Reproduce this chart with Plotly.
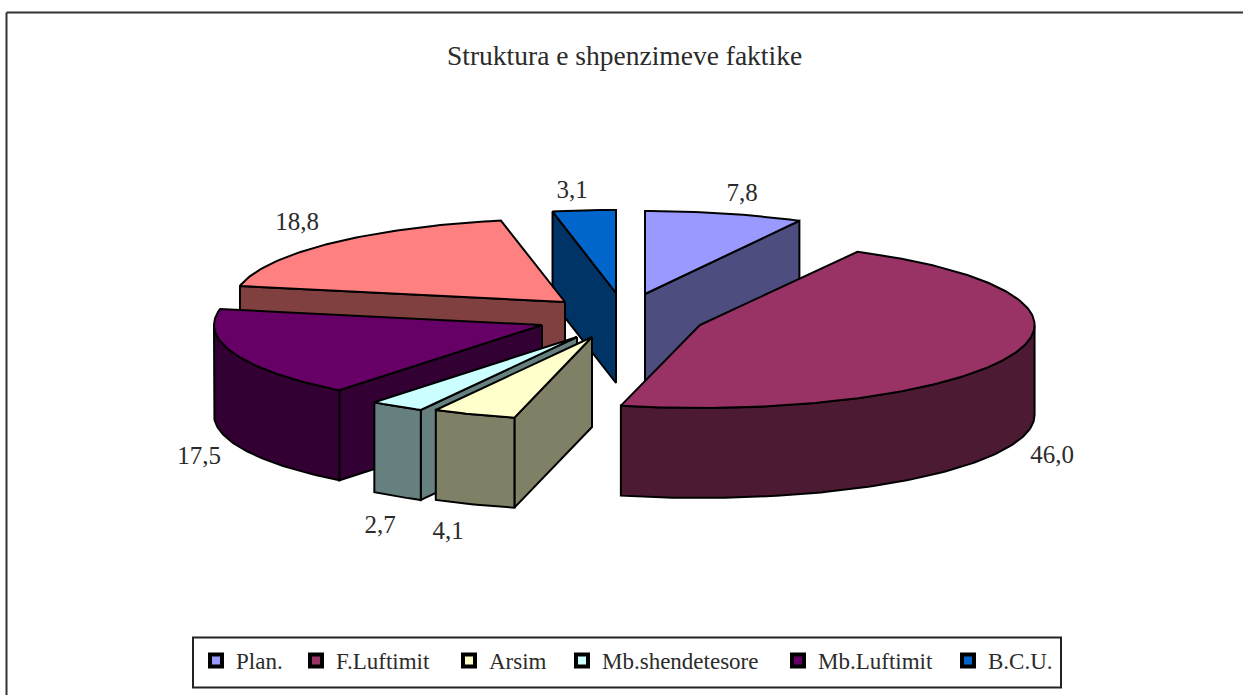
import numpy as np
import plotly.graph_objects as go

# ---- data ----
title_text = "Struktura e shpenzimeve faktike"
categories = ["Plan.", "F.Luftimit", "Arsim", "Mb.shendetesore", "Mb.Luftimit", None, "B.C.U."]
values = [7.8, 46.0, 4.1, 2.7, 17.5, 18.8, 3.1]

# ---- style ----
top_colors = ["#9999FF", "#993366", "#FFFFCC", "#CCFFFF", "#660066", "#FF8080", "#0066CC"]
wall_colors = ["#4D4D80", "#4D1A33", "#808066", "#668080", "#330033", "#804040", "#003366"]
explode_x = [15, 70, -38, -53, -88, -65, -14]
explode_y = [-18, 13, 25, 25, 13, -10, -19]
width_scale = [1, 1.02, 1, 1, 1, 1.01, 1]
label_x = [742, 1052, 448, 380, 199, 297, 572]
label_y = [195, 457, 533, 527, 458, 224, 192]
legend_x = [200, 300, 453, 566, 782, 952]
draw_order = [0, 6, 5, 4, 3, 2, 1]
centre_x, centre_y = 630, 312
radius_x, radius_y, depth = 328, 83, 90
TEXT = "#2b2b2b"
SERIF = "Liberation Serif"

total = sum(values)
edges = np.cumsum([0] + values) / total * 360.0


def rim(ax, ay, a0, a1, scale):
    t = np.radians(np.linspace(a0, a1, max(2, int(abs(a1 - a0)) + 2)))
    return ax + scale * radius_x * np.sin(t), ay - radius_y * np.cos(t)


fig = go.Figure()


def poly(xs, ys, color):
    fig.add_trace(go.Scatter(
        x=list(xs) + [xs[0]], y=list(ys) + [ys[0]], mode="lines", fill="toself",
        fillcolor=color, line=dict(color="black", width=2), hoverinfo="skip",
        showlegend=False))


for i in draw_order:
    a0, a1 = edges[i], edges[i + 1]
    s = width_scale[i]
    ax, ay = centre_x + explode_x[i], centre_y + explode_y[i]
    # radial faces
    for a, visible in ((a0, np.sin(np.radians(a0)) < -1e-6), (a1, np.sin(np.radians(a1)) > 1e-6)):
        if visible:
            rx, ry = rim(ax, ay, a, a, s)
            poly([ax, rx[0], rx[0], ax], [ay, ry[0], ry[0] + depth, ay + depth], wall_colors[i])
    # front curved wall
    w0, w1 = max(a0, 90), min(a1, 270)
    if w1 > w0:
        rx, ry = rim(ax, ay, w0, w1, s)
        poly(np.r_[rx, rx[::-1]], np.r_[ry, ry[::-1] + depth], wall_colors[i])
    # top
    rx, ry = rim(ax, ay, a0, a1, s)
    poly(np.r_[ax, rx], np.r_[ay, ry], top_colors[i])

# value labels
fig.add_trace(go.Scatter(
    x=label_x, y=label_y, mode="text",
    text=[f"{v:.1f}".replace(".", ",") for v in values],
    textfont=dict(family=SERIF, size=25, color=TEXT), hoverinfo="skip", showlegend=False))

# legend entries (one legend each so they sit at the original spacing)
layout_legends = {}
names = [(c, k) for k, c in enumerate(categories) if c]
for n, (c, k) in enumerate(names):
    key = "legend" if n == 0 else f"legend{n + 1}"
    fig.add_trace(go.Scatter(
        x=[None], y=[None], mode="markers", name=c, legend=key, showlegend=True,
        marker=dict(symbol="square", size=12, color=top_colors[k], line=dict(color="black", width=4))))
    layout_legends[key] = dict(
        x=(legend_x[n] - 4) / 1243, y=1 - 639 / 695, xanchor="left", yanchor="top",
        bgcolor="rgba(0,0,0,0)", font=dict(family=SERIF, size=23, color=TEXT),
        itemclick=False, itemdoubleclick=False)

shapes = [
    dict(type="rect", xref="x", yref="y", x0=193, x1=1061, y0=637.5, y1=687.5,
         line=dict(color="#222222", width=2), fillcolor="white", layer="below"),
    dict(type="line", xref="x", yref="y", x0=6.5, x1=1243, y0=12.5, y1=12.5,
         line=dict(color="#333333", width=2)),
    dict(type="line", xref="x", yref="y", x0=6.5, x1=6.5, y0=12.5, y1=695,
         line=dict(color="#333333", width=2)),
]

fig.update_layout(
    width=1243, height=695, margin=dict(l=0, r=0, t=0, b=0),
    paper_bgcolor="white", plot_bgcolor="white",
    xaxis=dict(range=[0, 1243], visible=False, fixedrange=True),
    yaxis=dict(range=[695, 0], visible=False, fixedrange=True),
    shapes=shapes,
    annotations=[dict(text=title_text, x=624, y=55, xref="x", yref="y", showarrow=False,
                      font=dict(family=SERIF, size=27.5, color=TEXT))],
    **layout_legends,
)

fig.write_html("out.html", config={"displayModeBar": False},
               post_script="document.body.style.margin='0';document.body.style.overflow='hidden';")
